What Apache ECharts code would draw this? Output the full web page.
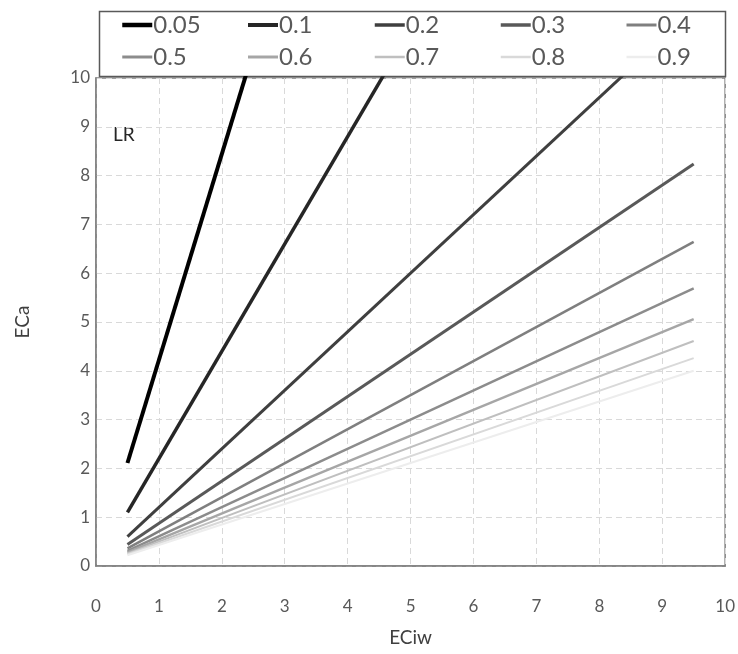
<!DOCTYPE html>
<html>
<head>
<meta charset="utf-8">
<script src="https://cdn.jsdelivr.net/npm/echarts@6/dist/echarts.min.js"></script>
<style>html,body{margin:0;padding:0;background:#fff}#c{width:738px;height:654px}</style>
</head>
<body>
<div id="c"></div>
<script>
// ECiw values at which each line is drawn
var eciw = [0.5, 9.5];
// Leaching ratio (LR) series names
var lrNames = ['0.05', '0.1', '0.2', '0.3', '0.4', '0.5', '0.6', '0.7', '0.8', '0.9'];
// ECa values for each LR at ECiw = 0.5 and 9.5
var lr005 = [2.11, 40.1];
var lr01  = [1.10, 20.9];
var lr02  = [0.60, 11.4];
var lr03  = [0.44, 8.24];
var lr04  = [0.36, 6.64];
var lr05  = [0.31, 5.69];
var lr06  = [0.28, 5.06];
var lr07  = [0.26, 4.61];
var lr08  = [0.24, 4.26];
var lr09  = [0.22, 4.00];
var xTicks = [0,1,2,3,4,5,6,7,8,9,10];
var yTicks = [0,1,2,3,4,5,6,7,8,9,10];

var seriesValues = [lr005, lr01, lr02, lr03, lr04, lr05, lr06, lr07, lr08, lr09];
var colors = ['#000000','#262626','#3f3f3f','#595959','#7f7f7f','#8c8c8c','#a6a6a6','#bfbfbf','#d9d9d9','#ededed'];
var widths = [4,3.5,3,3,2.5,2.5,2.5,2,2,2];
var FONT = 'Lato';

var series = lrNames.map(function(n, i){
  return {
    name: n, type: 'line', symbol: 'none', clip: true, silent: true,
    data: eciw.map(function(x, j){ return [x, seriesValues[i][j]]; }),
    lineStyle: {color: colors[i], width: widths[i]},
    itemStyle: {color: colors[i]}
  };
});

var legendLefts = [120, 246, 373, 499, 625];
var legends = legendLefts.map(function(l, k){
  return {
    orient: 'vertical', left: l, top: 12, padding: 0,
    itemWidth: 30, itemHeight: 12, itemGap: 6,
    data: [k, k+5].map(function(i){
      return {name: lrNames[i], lineStyle: {color: colors[i], width: widths[i] + 0.5}};
    }),
    selectedMode: false,
    itemStyle: {color: 'transparent', borderWidth: 0, opacity: 0},
    textStyle: {fontFamily: FONT, fontSize: 24, color: '#595959', lineHeight: 26, padding: [0,0,0,-4]}
  };
});

var chart = echarts.init(document.getElementById('c'), null, {renderer: 'canvas'});
chart.setOption({
  animation: false,
  backgroundColor: '#ffffff',
  color: colors,
  legend: legends,
  grid: {left: 96, right: 12, top: 78, bottom: 88, show: true, borderColor: '#7f7f7f', borderWidth: 1.5, backgroundColor: 'transparent'},
  graphic: [
    {type: 'rect', left: 97, top: 9, shape: {width: 626, height: 65}, style: {fill: 'none', stroke: '#595959', lineWidth: 1.5}, z: 0},
    {type: 'text', left: 113, top: 125, style: {text: 'LR', font: '19px ' + FONT, fill: '#262626'}}
  ],
  xAxis: {
    type: 'value', min: xTicks[0], max: xTicks[xTicks.length-1], interval: 1,
    name: 'ECiw', nameLocation: 'middle', nameGap: 62,
    nameTextStyle: {fontFamily: FONT, fontSize: 19, color: '#404040'},
    axisLine: {show: true, lineStyle: {color: '#7f7f7f', width: 1.5}},
    axisTick: {show: false},
    axisLabel: {fontFamily: FONT, fontSize: 17, color: '#595959', margin: 32},
    splitLine: {show: true, lineStyle: {color: '#d9d9d9', type: [6,4], width: 1}}
  },
  yAxis: {
    type: 'value', min: yTicks[0], max: yTicks[yTicks.length-1], interval: 1,
    name: 'ECa', nameLocation: 'middle', nameGap: 64,
    nameTextStyle: {fontFamily: FONT, fontSize: 19, color: '#404040'},
    axisLine: {show: true, lineStyle: {color: '#7f7f7f', width: 1.5}},
    axisTick: {show: false},
    axisLabel: {fontFamily: FONT, fontSize: 17, color: '#595959', margin: 6},
    splitLine: {show: true, lineStyle: {color: '#d9d9d9', type: [6,4], width: 1}}
  },
  series: series
});
</script>
</body>
</html>
